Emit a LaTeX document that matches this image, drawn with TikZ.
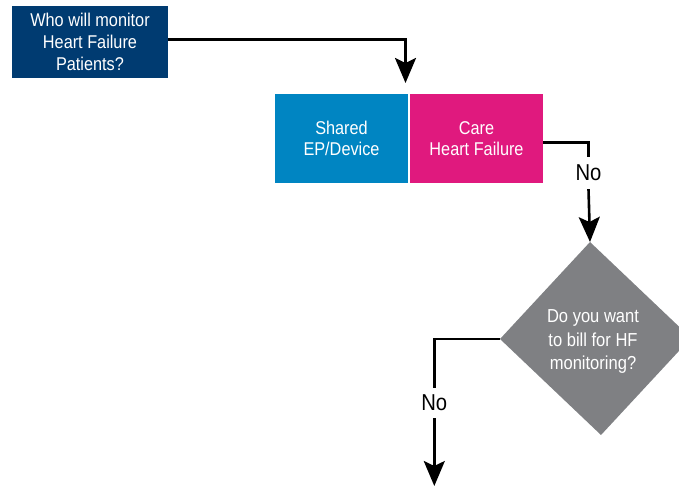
\documentclass[tikz,border=0pt]{standalone}
\usepackage{fontspec}
\setmainfont{Liberation Sans}[FakeStretch=0.88]
\usetikzlibrary{arrows.meta}
\definecolor{navy}{HTML}{003B71}
\definecolor{epblue}{HTML}{0085C2}
\definecolor{hfpink}{HTML}{E0197E}
\definecolor{decgray}{HTML}{7F8083}
\begin{document}
\begin{tikzpicture}[x=1pt,y=-1pt,
  box/.style={fill=#1,text=white,align=center,inner sep=0pt,
    font=\fontsize{18.5}{21.7}\selectfont},
  conn/.style={line width=2.6pt,black},
  arr/.style={conn,-{Stealth[length=25pt,width=21pt,inset=5pt]}},
  nolabel/.style={inner sep=0pt,font=\fontsize{23}{26}\selectfont}]
\useasboundingbox (0,0) rectangle (679,486);
\clip (0,0) rectangle (679,486);

% question box
\node[box=navy,minimum width=156pt,minimum height=72pt] (who) at (90,42)
  {Who will monitor\\Heart Failure\\Patients?};

% the two care options
\node[box=epblue,minimum width=133pt,minimum height=89pt] (ep) at (341.5,138.5)
  {Shared\\EP/Device};
\node[box=hfpink,minimum width=133pt,minimum height=89pt] (hf) at (476.5,138.5)
  {Care\\Heart Failure};

% decision
\coordinate (qT) at (590,242);
\coordinate (qL) at (500,339);
\coordinate (qB) at (601,435);
\coordinate (qR) at (691,338);
\fill[decgray] (qT) -- (qL) -- (qB) -- (qR) -- cycle;
\node[text=white,align=center,inner sep=0pt,
  font=\fontsize{18.8}{23.3}\selectfont] (bill) at (593,341.5)
  {Do you want\\to bill for HF\\monitoring?};

% labels on the connectors
\node[nolabel,minimum height=32pt] (no1) at (588.5,173) {No};
\node[nolabel,minimum height=30pt] (no2) at (434.3,403) {No};
\coordinate (hfin) at (405.5,83);
\coordinate (out) at (434.3,486);

% connectors
\draw[arr] ([yshift=2.7pt]who.east) -| (hfin);
\draw[conn] ([yshift=-3.8pt]hf.east) -| (no1.north);
\draw[arr] (no1.south) -- (qT);
\draw[conn] (qL) -| (no2.north);
\draw[arr] (no2.south) -- (out);
\end{tikzpicture}
\end{document}
